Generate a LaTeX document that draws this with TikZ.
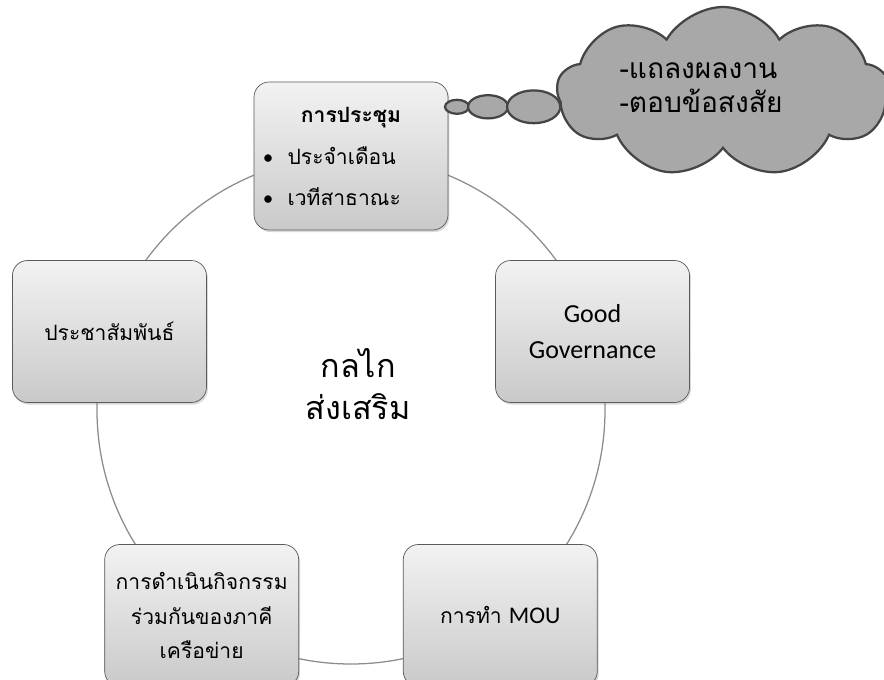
\documentclass[tikz,border=0pt]{standalone}
\usepackage{fontspec}
\setmainfont[Script=Thai]{Loma}
\newfontfamily\latinfont{Carlito}
\usetikzlibrary{positioning,shapes.geometric,shapes.symbols,shadows}

\definecolor{ringgray}{HTML}{8C8C8C}
\definecolor{boxline}{HTML}{5A5A5A}
\definecolor{cloudfill}{HTML}{A8A8A8}
\definecolor{cloudline}{HTML}{454545}

\tikzset{
  plate/.style={draw=boxline, line width=0.5pt, rounded corners=0.38cm,
    top color=gray!10, bottom color=gray!42, minimum width=4.85cm,
    minimum height=3.55cm, align=center, font=\fontsize{15}{25}\selectfont,
    drop shadow={shadow xshift=1pt, shadow yshift=-1.5pt, opacity=0.3}},
  bubble/.style={ellipse, draw=cloudline, line width=1.6pt, fill=cloudfill,
    inner sep=0pt}
}

\begin{document}
\begin{tikzpicture}
\useasboundingbox (-8.775,-6.75) rectangle (13.325,10.25);
% the ring behind the boxes
		\coordinate (ring) at (0,0);
		\draw[ringgray, line width=0.9pt] (ring) circle (6.35cm);
% boxes on the ring
		\node[plate, minimum height=3.7cm, text width=4.4cm, align=left,
		font=\fontsize{15}{28.5}\selectfont] (meeting) at (90:6.35)
		{\centerline{\bfseries การประชุม}\par\vspace{2pt}
		{\latinfont\textbullet}\ \ ประจำเดือน\\ {\latinfont\textbullet}\ \ เวทีสาธาณะ};
		\node[plate, font=\fontsize{18.5}{25}\selectfont] (goodgov) at (18:6.35)
		{\latinfont Good\\ \latinfont Governance};
		\node[plate] (pr) at (162:6.35) {ประชาสัมพันธ์};
		\node[plate, font=\fontsize{15}{24.5}\selectfont] (network) at (234:6.35)
		{การดำเนินกิจกรรม\\ร่วมกันของภาคี\\เครือข่าย};
		\node[plate] (mou) at (306:6.35) {การทำ {\latinfont\fontsize{17}{25}\selectfont MOU}};
% centre text
		\node[font=\fontsize{23}{30}\selectfont, align=center] (mech) at (0.18,0.65) {กลไก\\ส่งเสริม};
% thought cloud
		\node[bubble, minimum width=0.6cm, minimum height=0.35cm] (b1) at (2.65,7.58) {};
		\node[bubble, minimum width=1.0cm, minimum height=0.58cm, right=-0.08cm of b1] (b2) {};
		\node[bubble, minimum width=1.33cm, minimum height=0.82cm, right=-0.08cm of b2] (b3) {};
		\node[cloud, cloud puffs=9, cloud puff arc=120, cloud ignores aspect,
		minimum width=8.3cm, minimum height=4.25cm, draw=cloudline, line width=1.6pt,
		fill=cloudfill] (cloud) at (9.3,7.95) {};
		\node[font=\fontsize{20}{24}\selectfont, align=left] (answers) at (8.75,8.05)
		{-แถลงผลงาน\\-ตอบข้อสงสัย};
\end{tikzpicture}
\end{document}
